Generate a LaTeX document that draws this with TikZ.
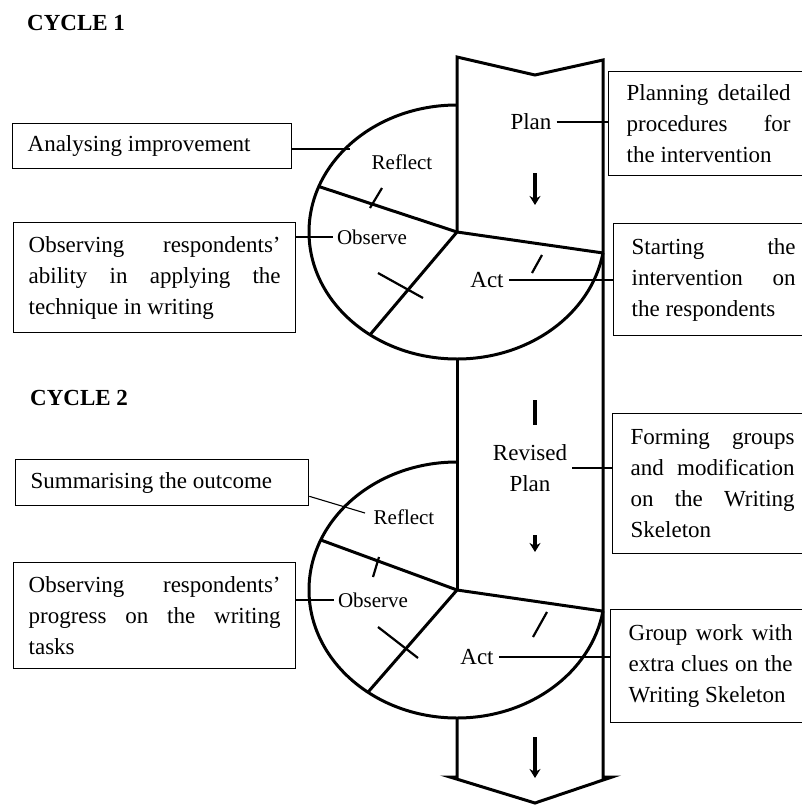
\documentclass[tikz,border=0pt]{standalone}
\usepackage{fontspec}
\setmainfont{Liberation Serif}
\usetikzlibrary{arrows.meta}
\newcommand\notefont{\fontsize{23}{31}\selectfont}
\newcommand\stagefont{\fontsize{21}{28}\selectfont}
\hbadness=10000

\begin{document}
\begin{tikzpicture}[
    x=1pt, y=-1pt,
    note/.style={draw, line width=1.3pt, anchor=north west, align=justify, inner xsep=15pt, inner ysep=0pt, font=\notefont},
    noteR/.style={note, inner xsep=18pt, text width=164pt},
    stage/.style={inner sep=5pt, font=\notefont},
    stagesm/.style={inner sep=4pt, font=\stagefont},
    cyclelabel/.style={anchor=base west, inner sep=0pt, font=\fontsize{23}{28}\selectfont\bfseries},
    band/.style={line width=3pt},
    lead/.style={line width=1.1pt},
    flow/.style={line width=3.5pt, -{Stealth[length=9pt, width=11pt]}},
    scratch/.style={line width=2.2pt}
  ]
    \useasboundingbox (0,0) rectangle (801,809);

    % Headings
    \node[cyclelabel] (c1) at (27,30) {CYCLE 1};
    \node[cyclelabel] (c2) at (30,405) {CYCLE 2};

    % Band with notched top and arrow head
    \coordinate (hubA) at (457,232);
    \coordinate (hubB) at (457,590);
    \draw[band] (hubA) -- (457,57) -- (535,75) -- (603,60) -- (603,777) -- (612,777)
        -- (535,803) -- (450,777) -- (457,777) -- (457,718);
    \draw[band] (457,359) -- (hubB);

    % Cycle 1 wheel
    \draw[band] (457,105) arc[start angle=270, end angle=9.5, x radius=148, y radius=127];
    \draw[band] (hubA) -- +(201:148 and 127);
    \draw[band] (hubA) -- +(126:148 and 127);
    \draw[band] (hubA) -- +(9.5:148 and 127);
    \draw[scratch] (370,208) -- (382,188);
    \draw[scratch] (378,273) -- (423,298);
    \draw[scratch] (532,273) -- (542,255);

    % Cycle 2 wheel
    \draw[band] (457,462) arc[start angle=270, end angle=9.5, x radius=148, y radius=128];
    \draw[band] (hubB) -- +(203:148 and 128);
    \draw[band] (hubB) -- +(127:148 and 128);
    \draw[band] (hubB) -- +(9.5:148 and 128);
    \draw[scratch] (373,577) -- (379,557);
    \draw[scratch] (378,627) -- (418,658);
    \draw[scratch] (533,637) -- (547,612);

    % Flow marks in the band
    \draw[flow] (535,173) -- (535,205);
    \draw[line width=4pt] (535,400) -- (535,425);
    \draw[flow] (535,535) -- (535,552);
    \draw[flow] (535,737) -- (535,778);

    % Stage labels
    \node[stage] (plan) at (531,122) {Plan};
    \node[stagesm] (refl1) at (402,162) {Reflect};
    \node[stagesm] (obs1) at (372,237) {Observe};
    \node[stage] (act1) at (487,280) {Act};
    \node[stage, align=center] (rplan) at (530,468) {Revised\\Plan};
    \node[stagesm] (refl2) at (404,517) {Reflect};
    \node[stagesm] (obs2) at (373,600) {Observe};
    \node[stage] (act2) at (477,657) {Act};

    % Notes left
    \node[note, text width=249pt, minimum height=45pt] (anabox) at (12,123) {Analysing improvement};
    \node[note, text width=252pt, minimum height=110pt] (obsbox1) at (13,222)
        {Observing respondents'\linebreak ability in applying the\linebreak technique in writing};
    \node[note, text width=263pt, minimum height=46pt] (sumbox) at (15,459) {Summarising the outcome};
    \node[note, text width=252pt, minimum height=106pt] (obsbox2) at (13,562)
        {Observing respondents'\linebreak progress on the writing\linebreak tasks};

    % Notes right
    \node[noteR, minimum height=104pt] (planbox) at (608,71)
        {Planning detailed\linebreak procedures for\linebreak the intervention};
    \node[noteR, minimum height=112pt] (startbox) at (613,223)
        {Starting the\linebreak intervention on\linebreak the respondents};
    \node[noteR, minimum height=140pt] (formbox) at (612,413)
        {Forming groups\linebreak and modification\linebreak on the Writing\linebreak Skeleton};
    \node[noteR, minimum height=113pt] (groupbox) at (610,609)
        {Group work with\linebreak extra clues on the\linebreak Writing Skeleton};

    % Leaders
    \coordinate (r1) at (350,149);
    \coordinate (r2) at (365,513);
    \draw[lead] (plan.east) -- (plan.east -| planbox.west);
    \draw[lead] (r1) -- (r1 -| anabox.east);
    \draw[lead] (obs1.west) -- (obs1.west -| obsbox1.east);
    \draw[lead] (act1.east) -- (act1.east -| startbox.west);
    \draw[lead] (rplan.east) -- (rplan.east -| formbox.west);
    \draw[lead] (r2) -- ([yshift=10pt]sumbox.south east);
    \draw[lead] (obs2.west) -- (obs2.west -| obsbox2.east);
    \draw[lead] (act2.east) -- (act2.east -| groupbox.west);
  \end{tikzpicture}
\end{document}
